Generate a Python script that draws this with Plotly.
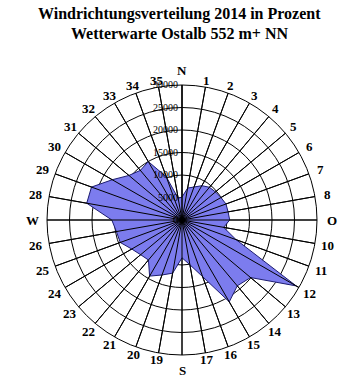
import math
import plotly.graph_objects as go

# ---- data ----
directions = list(range(36))  # sector index, 10 degrees each
dir_labels = ["N", "1", "2", "3", "4", "5", "6", "7", "8", "O",
              "10", "11", "12", "13", "14", "15", "16", "17", "S",
              "19", "20", "21", "22", "23", "24", "25", "26", "W",
              "28", "29", "30", "31", "32", "33", "34", "35"]
values = [5100, 7200, 7800, 8800, 9500, 9700, 10000, 10400, 10400, 10600,
          9400, 12800, 29300, 19900, 19100, 21000, 13400, 10100, 8400,
          12000, 13000, 14400, 11600, 12000, 12900, 14600, 14800, 15600,
          21500, 21400, 17900, 15400, 14400, 15000, 10200, 4900]
radial_ticks = [0, 5000, 10000, 15000, 20000, 25000, 30000]
radial_ticktext = ["0", "5000", "10000", "15000", "20000", "25000", "30000"]
title_lines = ["Windrichtungsverteilung 2014 in Prozent",
               "Wetterwarte Ostalb 552 m+ NN"]

theta = [d * 10 for d in directions] + [directions[0] * 10]
r = values + [values[0]]

W, H = 351, 388
cx, cy, rad = 182, 220, 135
rmax = radial_ticks[-1]

fig = go.Figure()
fig.add_trace(go.Scatterpolar(
    r=r, theta=theta, mode="lines", fill="toself",
    fillcolor="rgb(124,124,238)",
    line=dict(color="#1c1c70", width=1),
    hoverinfo="skip",
))

# spokes drawn above the filled area (as in the reference)
spoke_r, spoke_t = [], []
for d in directions:
    spoke_r += [0, rmax, None]
    spoke_t += [d * 10, d * 10, None]
fig.add_trace(go.Scatterpolar(
    r=spoke_r, theta=spoke_t, mode="lines",
    line=dict(color="black", width=1), hoverinfo="skip",
))

serif = "Liberation Serif"
annotations = []
# direction labels around the circle (placed like the reference)
for d, lab in zip(directions, dir_labels):
    a = math.radians(d * 10)
    if lab in ("N", "O", "S", "W"):
        rp = 150
    else:
        rp = 140 + 8 * abs(math.sin(a))
    x = cx + rp * math.sin(a)
    y = cy - rp * math.cos(a)
    annotations.append(dict(
        text=lab, x=x / W, y=1 - y / H, xref="paper", yref="paper",
        showarrow=False, xanchor="center", yanchor="middle",
        font=dict(family=serif, size=13, color="black", weight="bold")))

for i, t in enumerate(title_lines):
    annotations.append(dict(
        text=t, x=180 / W, y=1 - (14 + 19 * i) / H, xref="paper", yref="paper",
        showarrow=False, xanchor="center", yanchor="middle",
        font=dict(family=serif, size=16, color="black", weight="bold")))

fig.update_layout(
    width=W, height=H,
    margin=dict(l=0, r=0, t=0, b=0),
    paper_bgcolor="white",
    showlegend=False,
    polar=dict(
        domain=dict(x=[(cx - rad) / W, (cx + rad) / W],
                    y=[1 - (cy + rad) / H, 1 - (cy - rad) / H]),
        bgcolor="white",
        angularaxis=dict(
            rotation=90, direction="clockwise",
            tickmode="array", tickvals=[d * 10 for d in directions],
            showticklabels=False, ticks="",
            showgrid=True, gridcolor="black", gridwidth=1,
            showline=True, linecolor="black", linewidth=1,
        ),
        radialaxis=dict(
            range=[0, rmax], tickmode="array", tickvals=radial_ticks,
            ticktext=radial_ticktext, ticksuffix="\u00a0",
            angle=90, side="counterclockwise",
            tickangle=90, showline=True, linecolor="black", linewidth=1,
            showgrid=True, gridcolor="black", gridwidth=1,
            ticks="", tickfont=dict(family=serif, size=10, color="black"),
            layer="above traces",
        ),
    ),
    annotations=annotations,
)

fig.write_html("out.html")
